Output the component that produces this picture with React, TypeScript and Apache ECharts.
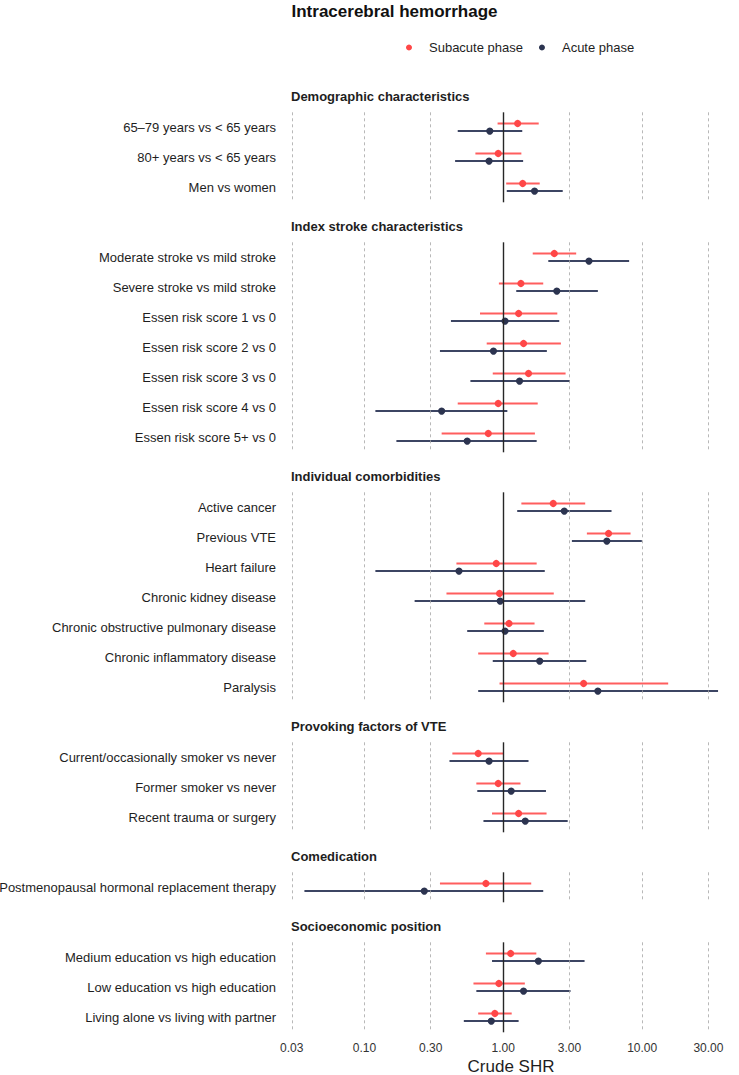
import React, { useEffect, useRef } from "react";
import * as echarts from "echarts";

// ---- data ----
const groupNames = [
  "Demographic characteristics",
  "Index stroke characteristics",
  "Individual comorbidities",
  "Provoking factors of VTE",
  "Comedication",
  "Socioeconomic position",
];

const demoLabels = ["65–79 years vs < 65 years", "80+ years vs < 65 years", "Men vs women"];
const demoSubEst = [1.27, 0.92, 1.38];
const demoSubLo = [0.91, 0.63, 1.05];
const demoSubHi = [1.8, 1.35, 1.83];
const demoAcuEst = [0.8, 0.79, 1.68];
const demoAcuLo = [0.47, 0.45, 1.06];
const demoAcuHi = [1.37, 1.39, 2.68];

const strokeLabels = [
  "Moderate stroke vs mild stroke",
  "Severe stroke vs mild stroke",
  "Essen risk score 1 vs 0",
  "Essen risk score 2 vs 0",
  "Essen risk score 3 vs 0",
  "Essen risk score 4 vs 0",
  "Essen risk score 5+ vs 0",
];
const strokeSubEst = [2.33, 1.34, 1.29, 1.4, 1.52, 0.92, 0.78];
const strokeSubLo = [1.63, 0.93, 0.68, 0.76, 0.84, 0.47, 0.36];
const strokeSubHi = [3.35, 1.94, 2.45, 2.6, 2.81, 1.77, 1.69];
const strokeAcuEst = [4.14, 2.43, 1.03, 0.85, 1.31, 0.36, 0.55];
const strokeAcuLo = [2.11, 1.24, 0.42, 0.35, 0.58, 0.12, 0.17];
const strokeAcuHi = [8.06, 4.8, 2.53, 2.06, 3.02, 1.07, 1.74];

const comorbLabels = [
  "Active cancer",
  "Previous VTE",
  "Heart failure",
  "Chronic kidney disease",
  "Chronic obstructive pulmonary disease",
  "Chronic inflammatory disease",
  "Paralysis",
];
const comorbSubEst = [2.29, 5.73, 0.89, 0.94, 1.1, 1.18, 3.79];
const comorbSubLo = [1.35, 4.0, 0.46, 0.39, 0.73, 0.66, 0.94];
const comorbSubHi = [3.89, 8.25, 1.74, 2.31, 1.68, 2.12, 15.4];
const comorbAcuEst = [2.75, 5.57, 0.48, 0.95, 1.03, 1.83, 4.8];
const comorbAcuLo = [1.26, 3.12, 0.12, 0.23, 0.55, 0.84, 0.66];
const comorbAcuHi = [6.02, 9.95, 1.99, 3.89, 1.96, 3.96, 35.2];

const provLabels = [
  "Current/occasionally smoker vs never",
  "Former smoker vs never",
  "Recent trauma or surgery",
];
const provSubEst = [0.66, 0.92, 1.29];
const provSubLo = [0.43, 0.64, 0.83];
const provSubHi = [1.01, 1.33, 2.05];
const provAcuEst = [0.79, 1.14, 1.44];
const provAcuLo = [0.41, 0.65, 0.72];
const provAcuHi = [1.52, 2.03, 2.91];

const comedLabels = ["Postmenopausal hormonal replacement therapy"];
const comedSubEst = [0.75];
const comedSubLo = [0.35];
const comedSubHi = [1.59];
const comedAcuEst = [0.27];
const comedAcuLo = [0.037];
const comedAcuHi = [1.94];

const sesLabels = [
  "Medium education vs high education",
  "Low education vs high education",
  "Living alone vs living with partner",
];
const sesSubEst = [1.13, 0.93, 0.87];
const sesSubLo = [0.75, 0.61, 0.66];
const sesSubHi = [1.73, 1.43, 1.15];
const sesAcuEst = [1.79, 1.4, 0.82];
const sesAcuLo = [0.83, 0.64, 0.52];
const sesAcuHi = [3.85, 3.05, 1.29];

const xTicks = [0.03, 0.1, 0.3, 1, 3, 10, 30];
const seriesNames = ["Subacute phase", "Acute phase"];

// ---- styling / layout ----
const FONT = "Liberation Sans, Arial, Helvetica, sans-serif";
const SUB_POINT = "#FF4747";
const SUB_LINE = "#FF5E5E";
const ACU_POINT = "#2C3450";
const ACU_LINE = "#3C4563";
const ROW_H = 30;
const GRID_LEFT = 288;
const GRID_WIDTH = 434;
const X_MIN = Math.pow(10, -1.55);
const X_MAX = Math.pow(10, 1.575);
const panelTops = [109.3, 239.3, 489.3, 739.3, 869.3, 939.3];

const panels = [
  { labels: demoLabels, sub: [demoSubEst, demoSubLo, demoSubHi], acu: [demoAcuEst, demoAcuLo, demoAcuHi] },
  { labels: strokeLabels, sub: [strokeSubEst, strokeSubLo, strokeSubHi], acu: [strokeAcuEst, strokeAcuLo, strokeAcuHi] },
  { labels: comorbLabels, sub: [comorbSubEst, comorbSubLo, comorbSubHi], acu: [comorbAcuEst, comorbAcuLo, comorbAcuHi] },
  { labels: provLabels, sub: [provSubEst, provSubLo, provSubHi], acu: [provAcuEst, provAcuLo, provAcuHi] },
  { labels: comedLabels, sub: [comedSubEst, comedSubLo, comedSubHi], acu: [comedAcuEst, comedAcuLo, comedAcuHi] },
  { labels: sesLabels, sub: [sesSubEst, sesSubLo, sesSubHi], acu: [sesAcuEst, sesAcuLo, sesAcuHi] },
];

function intervalSeries(
  name: string,
  gi: number,
  vals: number[][],
  offset: number,
  pointColor: string,
  lineColor: string
) {
  const [est, lo, hi] = vals;
  return {
    type: "custom",
    name,
    xAxisIndex: gi,
    yAxisIndex: gi,
    z: 3,
    itemStyle: { color: pointColor },
    encode: { x: [1, 2, 3], y: 0 },
    data: est.map((e, r) => [r, e, lo[r], hi[r]]),
    renderItem: (_params: any, api: any) => {
      const row = api.value(0);
      const p = api.coord([api.value(1), row]);
      const a = api.coord([api.value(2), row]);
      const b = api.coord([api.value(3), row]);
      const y = p[1] + offset;
      return {
        type: "group",
        children: [
          {
            type: "line",
            shape: { x1: a[0], y1: y, x2: b[0], y2: y },
            style: { stroke: lineColor, lineWidth: 2 },
          },
          {
            type: "circle",
            shape: { cx: p[0], cy: y, r: 3.6 },
            style: { fill: pointColor },
          },
        ],
      };
    },
  };
}

export default function App() {
  const ref = useRef<HTMLDivElement>(null);

  useEffect(() => {
    if (!ref.current) return;
    const chart = echarts.init(ref.current, undefined, { renderer: "svg" });
    const last = panels.length - 1;

    const grids = panels.map((p, i) => ({
      left: GRID_LEFT,
      width: GRID_WIDTH,
      top: panelTops[i] + 3,
      height: p.labels.length * ROW_H,
      outerBoundsMode: "none",
    }));

    const xAxes = panels.map((_p, i) => ({
      type: "log",
      logBase: 10,
      gridIndex: i,
      min: X_MIN,
      max: X_MAX,
      axisLine: { show: false },
      axisTick: { show: false },
      splitLine: { show: false },
      axisLabel:
        i === last
          ? {
              show: true,
              customValues: xTicks,
              formatter: (v: number) => v.toFixed(2),
              margin: 10,
              fontSize: 12,
              color: "#333333",
              fontFamily: FONT,
            }
          : { show: false },
    }));

    const yAxes = panels.map((p, i) => ({
      type: "category",
      gridIndex: i,
      inverse: true,
      data: p.labels,
      axisLine: { show: false },
      axisTick: { show: false },
      splitLine: { show: false },
      axisLabel: { fontSize: 13, color: "#1e1e1e", margin: 12, fontFamily: FONT },
    }));

    const series: any[] = [];
    panels.forEach((p, i) => {
      // reference grid lines for each panel
      series.push({
        type: "line",
        xAxisIndex: i,
        yAxisIndex: i,
        data: [],
        z: 1,
        silent: true,
        markLine: {
          silent: true,
          symbol: ["none", "none"],
          label: { show: false },
          lineStyle: { color: "#a6a6a6", type: [3, 3], width: 0.8 },
          data: xTicks.map((v) =>
            v === 1
              ? { xAxis: v, lineStyle: { color: "#262626", type: "solid", width: 1.4 } }
              : { xAxis: v }
          ),
        },
      });
      series.push(intervalSeries(seriesNames[0], i, p.sub, -3.8, SUB_POINT, SUB_LINE));
      series.push(intervalSeries(seriesNames[1], i, p.acu, 3.8, ACU_POINT, ACU_LINE));
    });

    const titles: any[] = [
      {
        text: "Intracerebral hemorrhage",
        left: 394.5,
        top: 1,
        textAlign: "center",
        padding: 0,
        textStyle: { fontSize: 17, fontWeight: "bold", color: "#111111", fontFamily: FONT, lineHeight: 20 },
      },
      ...groupNames.map((g, i) => ({
        text: g,
        left: 291,
        top: panelTops[i] - 12.6 - 8,
        padding: 0,
        textStyle: { fontSize: 13, fontWeight: "bold", color: "#1e1e1e", fontFamily: FONT, lineHeight: 16 },
      })),
      {
        text: "Crude SHR",
        left: 511,
        top: 1056,
        textAlign: "center",
        padding: 0,
        textStyle: { fontSize: 17, fontWeight: "normal", color: "#1e1e1e", fontFamily: FONT, lineHeight: 20 },
      },
    ];

    chart.setOption({
      animation: false,
      backgroundColor: "#ffffff",
      textStyle: { fontFamily: FONT },
      title: titles,
      legend: {
        data: seriesNames,
        left: 406,
        top: 41,
        padding: 0,
        orient: "horizontal",
        icon: "circle",
        itemWidth: 6,
        itemHeight: 6,
        itemGap: 16,
        selectedMode: false,
        textStyle: { fontSize: 13, color: "#1e1e1e", fontFamily: FONT, padding: [0, 0, 0, 12] },
      },
      grid: grids,
      xAxis: xAxes,
      yAxis: yAxes,
      series,
    });

    return () => chart.dispose();
  }, []);

  return (
    <div
      ref={ref}
      style={{ position: "fixed", left: 0, top: 0, width: 739, height: 1075, background: "#fff" }}
    />
  );
}
